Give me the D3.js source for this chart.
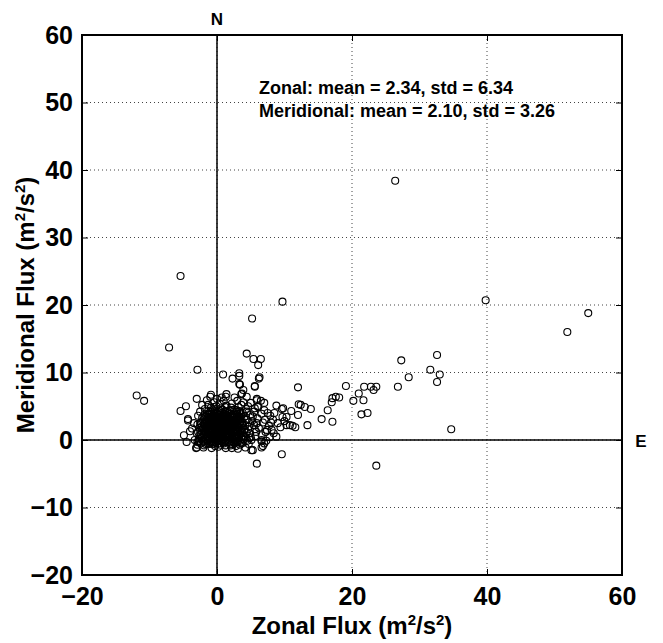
<!DOCTYPE html>
<html>
<head>
<meta charset="utf-8">
<script src="https://cdn.jsdelivr.net/npm/d3@7"></script>
<style>
  html, body { margin: 0; padding: 0; background: #fff; }
  svg text { font-family: "Liberation Sans", Arial, Helvetica, sans-serif; font-weight: bold; fill: #000; }
</style>
</head>
<body>
<svg id="chart" width="663" height="643"></svg>
<script>
// ---- data ----
const xTicks = [-20, 0, 20, 40, 60];
const yTicks = [-20, -10, 0, 10, 20, 30, 40, 50, 60];
const xTitle = "Zonal Flux";
const yTitle = "Meridional Flux";
const statsLines = ["Zonal: mean = 2.34, std = 6.34", "Meridional: mean = 2.10, std = 3.26"];

// far scatter points [zonal, meridional]
const farPoints = [
  [39.8,20.7],[26.4,38.4],[55.0,18.8],[51.9,16.0],[32.6,12.6],[27.3,11.8],[31.6,10.4],[33.0,9.7],
  [28.4,9.3],[32.6,8.6],[26.8,7.9],[34.7,1.6],[23.6,-3.8],
  [19.1,8.0],[21.8,7.9],[22.8,7.9],[23.6,7.9],[23.2,7.4],[21.0,6.9],[20.2,5.8],[21.7,5.9],[21.4,3.8],
  [22.3,4.0],[17.1,2.7],[17.1,6.2],[17.6,6.4],[18.1,6.3],[17.0,5.6],[16.4,4.4],[15.5,3.1],[13.4,2.2],
  [13.9,4.6],[13.0,4.9],[12.4,5.2],[12.1,5.3],[12.0,3.7],[11.0,4.3],[9.8,4.7],[9.6,4.6],[8.8,5.1],
  [9.7,3.4],[10.3,3.4],[9.4,1.9],[10.3,2.2],[10.8,2.2],[11.2,2.1],[11.6,1.9],[10.0,2.8],[12.0,7.8],
  [9.7,20.5],[5.2,18.0],[-5.4,24.3],[-7.1,13.7],[-2.9,10.4],[-11.9,6.6],[-10.8,5.8],[9.6,-2.1]
];

// points around the central cluster
const midPoints = [
  [7.0,5.5],[7.0,4.4],[5.9,6.1],[5.6,4.7],[6.3,9.3],[5.6,8.0],[5.4,12.0],[6.5,12.0],[6.1,11.1],
  [7.9,3.6],[8.3,3.0],[8.1,1.5],[8.4,1.0],[7.7,2.1],[6.6,0.0],[7.3,-0.1],[6.8,-0.9],[5.3,-1.5],[5.9,-3.5],
  [0.9,9.7],[2.3,9.1],[3.3,9.9],[3.3,9.5],[4.4,12.8],[3.4,8.2],[3.9,7.4],[3.6,6.8],[4.4,6.4],[1.4,6.8],
  [1.3,6.4],[-0.9,6.7],[-3.0,6.1],[-5.4,4.3],[-4.6,5.0],[-4.3,3.1],[-4.3,2.9],[-3.4,2.5],[-3.7,1.7],
  [-4.0,1.3],[-4.9,0.7],[-4.5,-0.3],[-3.3,0.0],[-2.6,-0.1],[-3.0,-1.1],[-2.9,-0.7],[-1.0,6.4],[-1.5,5.9],
  [-1.3,5.2],[6.2,9.1],[3.3,8.3],[5.6,7.9],[3.7,6.9],[5.9,5.9],[6.1,4.9],[6.6,3.9],[5.3,3.5],[5.9,2.5],
  [7.1,3.0],[7.4,1.5],[6.6,0.7],[5.1,0.0],[6.6,-0.2],[6.6,-1.1],[5.1,-1.5],[2.2,-1.2],[0.2,-1.0],
  [-3.1,-1.2],[-2.0,3.5],[-1.8,2.5],[-0.5,4.9],[1.2,4.9],[2.2,5.4],[3.2,4.9],[2.9,4.4],[3.4,4.0],
  [4.4,4.2],[4.4,3.0],[4.1,1.5],[4.9,1.0],[3.9,0.5],[2.9,-0.2],[3.4,-0.7],
  [6.0,5.0],[6.5,5.8],[7.5,4.0],[8.5,4.0],[8.0,2.6],[9.0,2.5],[7.2,1.2],[8.8,0.5],[7.8,0.4],[6.2,1.8],
  [5.5,2.2],[6.8,2.6],[5.8,1.2],[7.0,-0.5],
  [-2.2,5.2],[-1.8,4.6],[-2.5,4.2],[-2.8,3.6],[-2.9,2.3],[-3.0,1.0],[-2.9,-0.3],
  [4.8,2.0],[5.2,2.8],[4.9,3.7],[5.6,1.6],[5.0,0.4],[5.7,0.6],[4.7,-0.6],[4.2,-1.1],[3.1,-1.3],
  [1.3,-1.2],[-0.8,-1.2],[-2.0,-1.1],[6.0,3.2],[5.5,4.2],[4.6,5.0],[3.9,5.6],[3.0,5.8],[2.6,6.3],
  [3.6,5.2],[5.0,5.5],[4.3,4.6]
];

// dense cluster near the origin
const corePoints = [
  [-1.9,-0.8],[-1.1,-0.6],[-0.3,-0.9],[0.5,-0.7],[1.3,-0.8],[2.1,-0.6],[2.8,-0.9],[3.6,-0.5],[-2.4,-0.5],
  [-2.7,-0.2],[-2.0,-0.3],[-1.4,-0.1],[-0.7,-0.4],[0.0,-0.2],[0.8,-0.3],[1.6,-0.1],[2.4,-0.3],[3.1,-0.2],[3.9,-0.4],[4.5,-0.1],
  [-2.3,0.3],[-1.7,0.2],[-1.0,0.4],[-0.4,0.1],[0.3,0.3],[1.0,0.2],[1.7,0.4],[2.3,0.1],[3.0,0.3],[3.6,0.2],[4.3,0.4],
  [-2.6,0.7],[-1.9,0.8],[-1.3,0.6],[-0.7,0.8],[0.0,0.7],[0.6,0.6],[1.3,0.8],[2.0,0.6],[2.7,0.8],[3.3,0.7],[4.0,0.6],
  [-2.2,1.1],[-1.6,1.0],[-0.9,1.2],[-0.3,1.0],[0.4,1.1],[1.0,1.2],[1.7,1.0],[2.4,1.1],[3.0,1.2],[3.7,1.0],[4.4,1.1],
  [-2.5,1.5],[-1.9,1.4],[-1.2,1.6],[-0.6,1.4],[0.1,1.5],[0.7,1.6],[1.4,1.4],[2.1,1.5],[2.7,1.6],[3.4,1.4],[4.1,1.5],
  [-2.3,1.9],[-1.6,1.8],[-0.9,2.0],[-0.3,1.8],[0.4,1.9],[1.1,2.0],[1.7,1.8],[2.4,1.9],[3.1,2.0],[3.8,1.8],
  [-2.0,2.3],[-1.3,2.2],[-0.6,2.4],[0.0,2.2],[0.7,2.3],[1.4,2.4],[2.0,2.2],[2.7,2.3],[3.4,2.4],[4.2,2.2],
  [-2.2,2.7],[-1.6,2.6],[-0.9,2.8],[-0.2,2.6],[0.4,2.7],[1.1,2.8],[1.8,2.6],[2.4,2.7],[3.1,2.8],[3.8,2.6],
  [-1.9,3.1],[-1.2,3.0],[-0.5,3.2],[0.2,3.0],[0.9,3.1],[1.5,3.2],[2.2,3.0],[2.9,3.1],[3.6,3.2],[4.4,3.0],
  [-1.6,3.5],[-0.9,3.4],[-0.2,3.6],[0.5,3.4],[1.2,3.5],[1.9,3.6],[2.6,3.4],[3.3,3.5],
  [-1.8,3.9],[-1.1,3.8],[-0.4,4.0],[0.3,3.8],[1.0,3.9],[1.7,4.0],[2.4,3.8],[3.0,3.9],[3.8,4.0],
  [-1.3,4.3],[-0.6,4.4],[0.1,4.2],[0.8,4.5],[1.5,4.3],[2.2,4.4],[2.9,4.2],
  [-0.9,4.8],[-0.1,5.0],[0.6,4.7],[1.4,5.1],[2.1,4.8],[-0.4,5.6],[0.4,5.4],[1.0,5.8],[0.0,6.1],[0.7,6.3],
  [-1.4,-0.5],[-0.6,-0.6],[0.2,-0.5],[1.0,-0.5],[1.8,-0.4],[2.6,-0.5],
  [-1.3,0.0],[-0.6,-0.1],[0.1,0.0],[0.7,-0.1],[1.3,0.0],[2.0,-0.1],[2.7,0.0],
  [-1.5,0.5],[-0.8,0.5],[-0.1,0.4],[0.5,0.5],[1.2,0.4],[1.9,0.5],[2.5,0.4],
  [-1.2,0.9],[-0.5,0.9],[0.2,0.9],[0.9,0.9],[1.5,0.9],[2.2,0.9],[2.9,0.9],
  [-1.4,1.3],[-0.7,1.3],[-0.1,1.2],[0.6,1.3],[1.3,1.2],[1.9,1.3],[2.6,1.3],
  [-1.1,1.7],[-0.4,1.7],[0.3,1.6],[0.9,1.7],[1.6,1.6],[2.3,1.7],[3.0,1.6],
  [-1.5,2.1],[-0.8,2.1],[-0.2,2.0],[0.5,2.1],[1.2,2.1],[1.9,2.0],[2.6,2.1],
  [-1.1,2.5],[-0.4,2.5],[0.3,2.4],[1.0,2.5],[1.6,2.5],[2.3,2.5],[3.0,2.4],
  [-1.4,2.9],[-0.7,2.9],[0.0,2.8],[0.7,2.9],[1.3,2.9],[2.0,2.8],[2.7,2.9],
  [-0.9,3.3],[-0.2,3.2],[0.5,3.3],[1.1,3.3],[1.8,3.2],[2.5,3.3],
  [-0.6,3.7],[0.1,3.7],[0.8,3.6],[1.5,3.7],[2.2,3.6],
  [-2.1,-0.1],[-1.7,-0.6],[-0.9,-0.3],[-0.2,-0.4],[0.5,-0.2],[1.2,-0.3],[2.0,-0.8],[2.7,-0.3],[3.4,-0.1],
  [-2.0,0.5],[-1.1,0.1],[-0.3,0.6],[0.4,0.0],[1.5,0.6],[2.2,0.3],[3.2,0.5],[3.9,0.1],
  [-2.4,0.9],[-1.4,0.8],[-0.9,0.7],[0.1,0.6],[0.8,1.0],[1.8,0.7],[2.6,0.6],[3.5,0.9],
  [-1.8,1.2],[-1.0,1.4],[-0.2,1.3],[0.5,1.4],[1.2,1.6],[2.0,1.2],[2.9,1.4],[3.6,1.3],
  [-2.0,1.7],[-1.4,1.9],[-0.6,1.6],[0.1,1.8],[0.8,1.9],[1.4,1.7],[2.2,1.8],[3.3,1.8],
  [-1.8,2.1],[-1.0,2.3],[-0.4,2.2],[0.3,2.2],[1.0,2.3],[1.7,2.3],[2.3,2.2],[3.0,2.2],[3.7,2.3],
  [-1.8,2.6],[-1.2,2.7],[-0.6,2.6],[0.1,2.5],[0.8,2.6],[1.4,2.7],[2.1,2.6],[2.8,2.6],[3.5,2.7],
  [-1.6,3.0],[-0.9,3.1],[-0.3,2.9],[0.5,3.0],[1.2,3.0],[1.8,3.0],[2.6,3.0],[3.3,3.0],
  [-1.3,3.4],[-0.5,3.5],[0.2,3.4],[0.9,3.5],[1.6,3.4],[2.3,3.4],[3.0,3.5],
  [-1.4,3.8],[-0.8,3.9],[0.0,3.9],[0.7,4.0],[1.3,3.8],[2.0,3.9],[2.7,3.8],
  [-1.0,4.2],[-0.3,4.4],[0.4,4.3],[1.2,4.2],[1.9,4.3],[2.6,4.5],[3.3,4.3],
  [-2.2,3.3],[-2.5,2.5],[-2.6,1.8],[-2.8,1.2],[-2.7,0.2],[4.8,0.3],[4.6,1.6],[4.7,2.6],[4.1,3.5],[3.6,3.8]
];

// ---- chart ----
const svg = d3.select("#chart");
const L = 82, R = 622, T = 35, B = 575;
const x = d3.scaleLinear().domain([-20, 60]).range([L, R]);
const y = d3.scaleLinear().domain([-20, 60]).range([B, T]);

// grid (dotted)
const grid = svg.append("g").attr("stroke", "#444").attr("stroke-width", 1)
  .attr("stroke-dasharray", "1,3").attr("fill", "none");
xTicks.slice(1, -1).forEach(v => {
  grid.append("line").attr("x1", x(v)).attr("x2", x(v)).attr("y1", T).attr("y2", B);
});
yTicks.slice(1, -1).forEach(v => {
  grid.append("line").attr("x1", L).attr("x2", R).attr("y1", y(v)).attr("y2", y(v));
});

// zero lines
svg.append("line").attr("x1", x(-20)).attr("x2", x(60)).attr("y1", y(0)).attr("y2", y(0))
  .attr("stroke", "#000").attr("stroke-width", 1.5);
svg.append("line").attr("x1", x(0)).attr("x2", x(0)).attr("y1", y(-20)).attr("y2", y(60))
  .attr("stroke", "#000").attr("stroke-width", 1.5);

// points
const allPoints = farPoints.concat(midPoints, corePoints);
svg.append("g").selectAll("circle").data(allPoints).join("circle")
  .attr("cx", d => x(d[0])).attr("cy", d => y(d[1])).attr("r", 3.5)
  .attr("fill", "none").attr("stroke", "#000").attr("stroke-width", 1.1);

// axes (inward ticks on all four sides)
const fmt = d => d < 0 ? "\u2212" + Math.abs(d) : String(d);
const gx = svg.append("g").attr("transform", `translate(0,${B})`)
  .call(d3.axisBottom(x).tickValues(xTicks).tickSize(-6).tickPadding(12).tickFormat(fmt));
const gy = svg.append("g").attr("transform", `translate(${L},0)`)
  .call(d3.axisLeft(y).tickValues(yTicks).tickSize(-6).tickPadding(9).tickFormat(fmt));
const gx2 = svg.append("g").attr("transform", `translate(0,${T})`)
  .call(d3.axisTop(x).tickValues(xTicks).tickSize(-6).tickFormat(""));
const gy2 = svg.append("g").attr("transform", `translate(${R},0)`)
  .call(d3.axisRight(y).tickValues(yTicks).tickSize(-6).tickFormat(""));
[gx, gy, gx2, gy2].forEach(g => {
  g.select(".domain").remove();
  g.selectAll(".tick line").attr("stroke", "#000").attr("stroke-width", 1);
  g.selectAll(".tick text").attr("font-size", 25).attr("font-family", null).attr("fill", "#000");
});

// frame
svg.append("rect").attr("x", L).attr("y", T).attr("width", R - L).attr("height", B - T)
  .attr("fill", "none").attr("stroke", "#000").attr("stroke-width", 2);

// direction labels
svg.append("text").attr("x", x(0)).attr("y", 25).attr("text-anchor", "middle")
  .attr("font-size", 17).text("N");
svg.append("text").attr("x", 641).attr("y", y(0) + 7).attr("text-anchor", "middle")
  .attr("font-size", 17).text("E");

// stats text
svg.append("text").attr("x", 259).attr("y", 94).attr("font-size", 18).text(statsLines[0]);
svg.append("text").attr("x", 259).attr("y", 117).attr("font-size", 18).text(statsLines[1]);

// axis titles with superscripts
function unitTitle(sel, base) {
  sel.append("tspan").text(base + " (m");
  sel.append("tspan").attr("dy", -9).attr("font-size", 15).text("2");
  sel.append("tspan").attr("dy", 9).text("/s");
  sel.append("tspan").attr("dy", -9).attr("font-size", 15).text("2");
  sel.append("tspan").attr("dy", 9).text(")");
}
const xt = svg.append("text").attr("x", (L + R) / 2).attr("y", 634)
  .attr("text-anchor", "middle").attr("font-size", 24);
unitTitle(xt, xTitle);
const yt = svg.append("text").attr("transform", `translate(34,${(T + B) / 2}) rotate(-90)`)
  .attr("text-anchor", "middle").attr("font-size", 24);
unitTitle(yt, yTitle);
</script>
</body>
</html>
